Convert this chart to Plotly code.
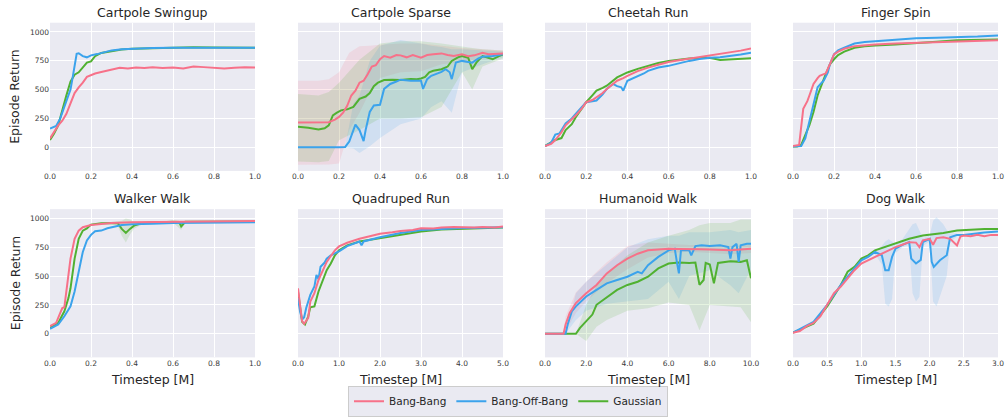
import plotly.graph_objects as go

# ---------------- data ----------------
TITLES = ["Cartpole Swingup", "Cartpole Sparse", "Cheetah Run", "Finger Spin",
          "Walker Walk", "Quadruped Run", "Humanoid Walk", "Dog Walk"]
X_MAX = [1.0, 1.0, 1.0, 1.0, 1.0, 5.0, 10.0, 3.0]
X_TICKS = [[0, 0.2, 0.4, 0.6, 0.8, 1.0]] * 5 + [[0, 1, 2, 3, 4, 5], [0, 2, 4, 6, 8, 10],
                                                [0, 0.5, 1.0, 1.5, 2.0, 2.5, 3.0]]
Y_TICKS = [0, 250, 500, 750, 1000]
SERIES = ["Bang-Bang", "Bang-Off-Bang", "Gaussian"]

# Cartpole Swingup
sw_bb_x = [0, 0.02, 0.04, 0.06, 0.08, 0.10, 0.12, 0.14, 0.16, 0.18, 0.20, 0.22, 0.25, 0.28, 0.31, 0.34, 0.38, 0.42, 0.46, 0.50, 0.55, 0.60, 0.65, 0.70, 0.75, 0.80, 0.85, 0.90, 0.95, 1.0]
sw_bb_y = [77, 140, 190, 230, 290, 380, 470, 520, 560, 610, 625, 640, 652, 665, 680, 690, 684, 692, 688, 693, 687, 692, 684, 700, 695, 692, 683, 690, 694, 691]
sw_bo_x = [0, 0.03, 0.05, 0.07, 0.09, 0.10, 0.11, 0.12, 0.13, 0.14, 0.16, 0.18, 0.20, 0.23, 0.26, 0.30, 0.35, 0.40, 0.45, 0.50, 0.60, 0.70, 0.80, 0.90, 1.0]
sw_bo_y = [163, 185, 250, 350, 440, 500, 600, 720, 810, 815, 790, 780, 797, 808, 820, 840, 850, 855, 856, 860, 862, 863, 866, 865, 863]
sw_ga_x = [0, 0.02, 0.04, 0.06, 0.08, 0.10, 0.12, 0.14, 0.16, 0.18, 0.20, 0.22, 0.25, 0.30, 0.35, 0.40, 0.50, 0.60, 0.70, 0.80, 0.90, 1.0]
sw_ga_y = [63, 120, 190, 330, 450, 570, 630, 650, 690, 735, 745, 790, 818, 834, 848, 854, 860, 866, 868, 866, 862, 862]

# Cartpole Sparse
sp_bb_x = [0, 0.05, 0.10, 0.15, 0.18, 0.20, 0.22, 0.24, 0.26, 0.28, 0.30, 0.32, 0.34, 0.36, 0.38, 0.40, 0.42, 0.45, 0.48, 0.50, 0.53, 0.56, 0.60, 0.63, 0.66, 0.70, 0.73, 0.76, 0.80, 0.83, 0.86, 0.90, 0.93, 0.96, 1.0]
sp_bb_y = [214, 214, 214, 218, 240, 263, 300, 360, 449, 491, 560, 577, 634, 700, 712, 763, 791, 777, 800, 797, 780, 800, 777, 800, 806, 814, 800, 791, 806, 790, 797, 820, 806, 812, 814]
sp_bo_x = [0, 0.05, 0.10, 0.15, 0.20, 0.23, 0.25, 0.27, 0.28, 0.30, 0.32, 0.33, 0.35, 0.37, 0.40, 0.42, 0.45, 0.48, 0.50, 0.55, 0.58, 0.60, 0.61, 0.63, 0.65, 0.68, 0.70, 0.72, 0.74, 0.75, 0.77, 0.80, 0.83, 0.85, 0.88, 0.90, 0.95, 1.0]
sp_bo_y = [0, 2, 0, 0, 0, 3, 49, 150, 197, 149, 54, 150, 306, 363, 369, 506, 549, 570, 586, 577, 580, 577, 506, 591, 620, 640, 654, 677, 650, 591, 734, 749, 740, 734, 770, 786, 791, 806]
sp_ga_x = [0, 0.05, 0.10, 0.13, 0.15, 0.17, 0.19, 0.21, 0.24, 0.27, 0.30, 0.33, 0.35, 0.37, 0.39, 0.42, 0.46, 0.50, 0.55, 0.58, 0.60, 0.62, 0.64, 0.66, 0.70, 0.73, 0.75, 0.78, 0.80, 0.83, 0.85, 0.87, 0.90, 0.93, 0.95, 0.98, 1.0]
sp_ga_y = [177, 170, 154, 165, 190, 277, 300, 320, 329, 350, 420, 440, 470, 530, 560, 583, 585, 583, 591, 590, 597, 610, 650, 663, 677, 700, 749, 780, 791, 777, 677, 734, 791, 775, 763, 790, 806]
sp_bb_band_x = [0, 0.1, 0.15, 0.2, 0.25, 0.3, 0.35, 0.4, 0.5, 0.6, 0.7, 0.8, 0.9, 1.0]
sp_bb_lo = [-151, -151, -150, -140, 150, 300, 480, 600, 650, 660, 720, 740, 770, 790]
sp_bb_hi = [577, 577, 590, 650, 820, 877, 880, 890, 900, 900, 880, 860, 850, 840]
sp_bo_band_x = [0, 0.2, 0.23, 0.27, 0.3, 0.35, 0.4, 0.5, 0.6, 0.65, 0.7, 0.75, 0.8, 0.9, 1.0]
sp_bo_lo = [0, 0, -5, -10, -50, 10, 80, 200, 250, 350, 400, 300, 650, 720, 780]
sp_bo_hi = [0, 0, 10, 380, 450, 750, 880, 930, 900, 880, 870, 850, 850, 840, 830]
sp_ga_band_x = [0, 0.1, 0.15, 0.2, 0.3, 0.4, 0.5, 0.6, 0.7, 0.8, 0.85, 0.9, 1.0]
sp_ga_lo = [-123, -130, -120, 60, 150, 250, 250, 260, 350, 650, 500, 700, 770]
sp_ga_hi = [463, 450, 480, 560, 760, 900, 920, 920, 900, 870, 860, 850, 840]

# Cheetah Run
ch_bb_x = [0, 0.03, 0.05, 0.08, 0.10, 0.13, 0.15, 0.18, 0.20, 0.23, 0.25, 0.28, 0.30, 0.33, 0.35, 0.38, 0.40, 0.45, 0.50, 0.55, 0.60, 0.65, 0.70, 0.75, 0.80, 0.85, 0.90, 0.95, 1.0]
ch_bb_y = [11, 30, 63, 130, 191, 240, 277, 340, 391, 410, 434, 470, 506, 550, 577, 600, 620, 660, 691, 715, 740, 755, 769, 780, 791, 805, 820, 838, 857]
ch_bo_x = [0, 0.03, 0.05, 0.07, 0.10, 0.13, 0.15, 0.18, 0.20, 0.23, 0.25, 0.28, 0.30, 0.33, 0.35, 0.37, 0.38, 0.40, 0.43, 0.45, 0.48, 0.50, 0.55, 0.60, 0.65, 0.70, 0.75, 0.80, 0.85, 0.90, 0.95, 1.0]
ch_bo_y = [11, 40, 111, 120, 206, 250, 291, 350, 391, 400, 406, 460, 506, 549, 530, 520, 491, 577, 600, 620, 640, 663, 691, 706, 730, 749, 765, 777, 780, 791, 805, 820]
ch_ga_x = [0, 0.03, 0.05, 0.08, 0.10, 0.13, 0.15, 0.18, 0.20, 0.23, 0.25, 0.28, 0.30, 0.35, 0.40, 0.45, 0.50, 0.55, 0.60, 0.65, 0.70, 0.75, 0.80, 0.85, 0.90, 0.95, 1.0]
ch_ga_y = [11, 40, 63, 80, 149, 200, 263, 340, 391, 450, 491, 515, 534, 606, 649, 680, 706, 730, 749, 760, 769, 775, 777, 757, 763, 765, 771]

# Finger Spin
fs_bb_x = [0, 0.02, 0.03, 0.05, 0.07, 0.08, 0.10, 0.12, 0.13, 0.15, 0.16, 0.18, 0.20, 0.22, 0.25, 0.30, 0.35, 0.40, 0.50, 0.60, 0.70, 0.80, 0.90, 1.0]
fs_bb_y = [11, 15, 20, 334, 400, 449, 549, 600, 620, 634, 640, 720, 806, 830, 854, 877, 885, 891, 900, 906, 912, 920, 925, 929]
fs_bo_x = [0, 0.02, 0.04, 0.06, 0.08, 0.10, 0.12, 0.14, 0.15, 0.17, 0.18, 0.20, 0.22, 0.25, 0.30, 0.35, 0.40, 0.50, 0.60, 0.70, 0.80, 0.90, 1.0]
fs_bo_y = [6, 6, 10, 77, 220, 363, 520, 560, 577, 650, 720, 806, 840, 863, 900, 912, 920, 934, 946, 950, 954, 960, 969]
fs_ga_x = [0, 0.02, 0.04, 0.06, 0.08, 0.10, 0.12, 0.15, 0.18, 0.20, 0.22, 0.25, 0.30, 0.35, 0.40, 0.50, 0.60, 0.70, 0.80, 0.90, 1.0]
fs_ga_y = [6, 6, 20, 106, 191, 306, 449, 591, 720, 763, 800, 829, 863, 875, 883, 891, 906, 915, 929, 932, 934]

# Walker Walk
ww_bb_x = [0, 0.03, 0.05, 0.06, 0.07, 0.08, 0.10, 0.12, 0.14, 0.16, 0.18, 0.20, 0.25, 0.30, 0.40, 0.50, 0.60, 0.70, 0.80, 0.90, 1.0]
ww_bb_y = [66, 94, 180, 223, 230, 366, 651, 823, 894, 923, 935, 943, 951, 960, 966, 968, 971, 973, 975, 975, 977]
ww_bo_x = [0, 0.04, 0.07, 0.10, 0.12, 0.14, 0.16, 0.18, 0.20, 0.22, 0.25, 0.28, 0.30, 0.35, 0.40, 0.45, 0.50, 0.60, 0.70, 0.80, 0.90, 1.0]
ww_bo_y = [43, 80, 151, 237, 366, 537, 709, 809, 857, 889, 894, 914, 923, 943, 949, 950, 953, 960, 962, 966, 966, 966]
ww_ga_x = [0, 0.04, 0.07, 0.09, 0.10, 0.12, 0.14, 0.16, 0.18, 0.20, 0.25, 0.30, 0.33, 0.35, 0.37, 0.39, 0.41, 0.45, 0.50, 0.60, 0.63, 0.64, 0.66, 0.70, 0.80, 0.90, 1.0]
ww_ga_y = [51, 94, 194, 309, 394, 651, 823, 894, 914, 946, 957, 960, 960, 909, 874, 909, 937, 960, 965, 971, 968, 931, 971, 972, 974, 974, 974]
ww_ga_band_x = [0.3, 0.33, 0.35, 0.37, 0.39, 0.41, 0.45, 0.6, 0.64, 0.66, 0.7]
ww_ga_lo = [950, 940, 850, 790, 860, 910, 950, 965, 900, 965, 968]
ww_ga_hi = [970, 975, 980, 1000, 990, 970, 970, 977, 965, 977, 976]

# Quadruped Run
qr_bb_x = [0, 0.05, 0.10, 0.15, 0.25, 0.30, 0.40, 0.50, 0.60, 0.70, 0.80, 0.90, 1.0, 1.2, 1.5, 1.8, 2.0, 2.3, 2.5, 2.8, 3.0, 3.3, 3.5, 3.8, 4.0, 4.3, 4.5, 4.8, 5.0]
qr_bb_y = [394, 251, 109, 86, 137, 280, 351, 466, 551, 623, 674, 723, 757, 789, 823, 852, 866, 880, 891, 900, 914, 912, 920, 925, 923, 920, 926, 922, 929]
qr_bo_x = [0, 0.05, 0.10, 0.15, 0.20, 0.30, 0.40, 0.45, 0.50, 0.55, 0.65, 0.70, 0.80, 1.0, 1.2, 1.5, 1.55, 1.6, 2.0, 2.5, 3.0, 3.5, 4.0, 4.5, 5.0]
qr_bo_y = [309, 194, 123, 143, 223, 337, 409, 509, 474, 580, 617, 651, 680, 714, 760, 800, 766, 800, 837, 874, 900, 909, 917, 918, 923]
qr_ga_x = [0, 0.05, 0.10, 0.17, 0.25, 0.30, 0.40, 0.50, 0.60, 0.70, 0.80, 0.90, 1.0, 1.2, 1.5, 2.0, 2.5, 3.0, 3.5, 4.0, 4.5, 5.0]
qr_ga_y = [366, 223, 103, 80, 151, 229, 237, 366, 466, 551, 609, 680, 723, 766, 800, 829, 857, 886, 903, 909, 914, 920]

# Humanoid Walk
hw_bb_x = [0, 0.9, 1.0, 1.2, 1.5, 2.0, 2.5, 3.0, 3.5, 4.0, 4.5, 5.0, 5.5, 6.0, 6.5, 7.0, 7.5, 8.0, 8.5, 9.0, 9.5, 10.0]
hw_bb_y = [0, 0, 80, 180, 266, 351, 423, 523, 594, 651, 694, 723, 731, 737, 735, 737, 733, 731, 728, 723, 731, 737]
hw_bo_x = [0, 1.0, 1.1, 1.3, 1.5, 2.0, 2.5, 3.0, 3.5, 4.0, 4.5, 4.7, 5.0, 5.5, 6.0, 6.3, 6.4, 6.5, 6.6, 7.0, 7.1, 7.3, 7.6, 8.0, 8.5, 8.9, 9.0, 9.1, 9.3, 9.4, 9.5, 9.8, 10.0]
hw_bo_y = [0, 0, 80, 194, 237, 323, 380, 437, 466, 494, 537, 523, 594, 666, 723, 737, 623, 523, 723, 723, 680, 760, 766, 760, 766, 751, 651, 751, 780, 623, 766, 780, 780]
hw_ga_x = [0, 1.5, 1.7, 2.0, 2.3, 2.5, 3.0, 3.5, 4.0, 4.5, 5.0, 5.5, 6.0, 6.5, 7.0, 7.3, 7.5, 7.7, 7.8, 8.0, 8.2, 8.4, 9.0, 9.5, 9.8, 10.0]
hw_ga_y = [0, 0, 51, 109, 166, 251, 314, 380, 423, 451, 494, 566, 609, 617, 614, 617, 423, 466, 614, 600, 437, 614, 629, 623, 637, 480]
hw_bb_band_x = [0, 0.9, 1.0, 1.5, 2.0, 3.0, 4.0, 5.0, 6.0, 7.0, 8.0, 9.0, 10.0]
hw_bb_lo = [0, 0, 20, 180, 280, 440, 560, 660, 700, 710, 700, 690, 700]
hw_bb_hi = [0, 0, 150, 360, 450, 620, 760, 790, 780, 770, 770, 760, 770]
hw_bo_band_x = [0, 1.0, 1.5, 2.0, 3.0, 4.0, 5.0, 6.0, 6.5, 7.0, 8.0, 9.0, 9.4, 10.0]
hw_bo_lo = [0, 0, 120, 200, 260, 280, 300, 450, 300, 500, 550, 420, 350, 560]
hw_bo_hi = [0, 0, 350, 450, 600, 750, 820, 850, 850, 880, 880, 900, 880, 900]
hw_ga_band_x = [0, 1.5, 2.0, 2.5, 3.0, 4.0, 5.0, 6.0, 7.0, 7.5, 8.0, 9.0, 9.5, 10.0]
hw_ga_lo = [0, 0, -63, 60, 120, 200, 220, 270, 250, 30, 250, 240, 230, 100]
hw_ga_hi = [0, 0, 250, 420, 520, 680, 790, 850, 900, 940, 960, 960, 990, 990]

# Dog Walk
dw_bb_x = [0, 0.1, 0.2, 0.3, 0.4, 0.5, 0.6, 0.7, 0.8, 0.9, 1.0, 1.1, 1.2, 1.3, 1.4, 1.5, 1.6, 1.7, 1.8, 1.85, 1.9, 2.0, 2.05, 2.1, 2.2, 2.3, 2.4, 2.45, 2.5, 2.6, 2.7, 2.8, 2.9, 3.0]
dw_bb_y = [9, 23, 66, 94, 151, 251, 351, 409, 480, 551, 609, 637, 666, 694, 723, 751, 771, 794, 790, 751, 809, 823, 771, 829, 837, 823, 766, 843, 851, 845, 857, 845, 857, 857]
dw_bo_x = [0, 0.3, 0.5, 0.7, 0.9, 1.0, 1.1, 1.2, 1.3, 1.35, 1.4, 1.45, 1.5, 1.6, 1.7, 1.73, 1.8, 1.87, 1.9, 2.0, 2.03, 2.06, 2.15, 2.25, 2.3, 2.4, 2.5, 2.6, 2.7, 2.8, 2.9, 3.0]
dw_bo_y = [9, 103, 251, 423, 566, 637, 666, 709, 680, 551, 551, 666, 737, 771, 794, 651, 609, 640, 794, 823, 623, 580, 637, 680, 837, 857, 857, 865, 874, 878, 882, 886]
dw_ga_x = [0, 0.3, 0.5, 0.7, 0.8, 0.9, 1.0, 1.1, 1.2, 1.3, 1.5, 1.7, 1.9, 2.0, 2.2, 2.4, 2.6, 2.8, 3.0]
dw_ga_y = [9, 86, 237, 423, 537, 580, 651, 680, 723, 743, 780, 823, 851, 857, 874, 894, 903, 909, 909]
dw_bo_band_x = [1.2, 1.3, 1.35, 1.4, 1.45, 1.5, 1.6, 1.7, 1.75, 1.8, 1.85, 1.9, 2.0, 2.05, 2.1, 2.2, 2.25, 2.3, 2.4]
dw_bo_lo = [690, 600, 260, 237, 300, 700, 750, 770, 350, 280, 320, 760, 800, 280, 237, 400, 500, 800, 840]
dw_bo_hi = [720, 760, 800, 820, 800, 780, 820, 900, 950, 960, 900, 830, 850, 980, 1009, 950, 900, 870, 870]

LINES = [
    [(sw_bb_x, sw_bb_y), (sw_bo_x, sw_bo_y), (sw_ga_x, sw_ga_y)],
    [(sp_bb_x, sp_bb_y), (sp_bo_x, sp_bo_y), (sp_ga_x, sp_ga_y)],
    [(ch_bb_x, ch_bb_y), (ch_bo_x, ch_bo_y), (ch_ga_x, ch_ga_y)],
    [(fs_bb_x, fs_bb_y), (fs_bo_x, fs_bo_y), (fs_ga_x, fs_ga_y)],
    [(ww_bb_x, ww_bb_y), (ww_bo_x, ww_bo_y), (ww_ga_x, ww_ga_y)],
    [(qr_bb_x, qr_bb_y), (qr_bo_x, qr_bo_y), (qr_ga_x, qr_ga_y)],
    [(hw_bb_x, hw_bb_y), (hw_bo_x, hw_bo_y), (hw_ga_x, hw_ga_y)],
    [(dw_bb_x, dw_bb_y), (dw_bo_x, dw_bo_y), (dw_ga_x, dw_ga_y)],
]
# (panel index, series index, x, lo, hi)
BANDS = [
    (1, 0, sp_bb_band_x, sp_bb_lo, sp_bb_hi),
    (1, 1, sp_bo_band_x, sp_bo_lo, sp_bo_hi),
    (1, 2, sp_ga_band_x, sp_ga_lo, sp_ga_hi),
    (4, 2, ww_ga_band_x, ww_ga_lo, ww_ga_hi),
    (6, 0, hw_bb_band_x, hw_bb_lo, hw_bb_hi),
    (6, 1, hw_bo_band_x, hw_bo_lo, hw_bo_hi),
    (6, 2, hw_ga_band_x, hw_ga_lo, hw_ga_hi),
    (7, 1, dw_bo_band_x, dw_bo_lo, dw_bo_hi),
]

# ---------------- style ----------------
COLORS = ["#f77189", "#3ba3ec", "#50b131"]
FILLS = ["rgba(247,113,137,0.15)", "rgba(59,163,236,0.15)", "rgba(80,177,49,0.15)"]
W, H = 1006, 417
COL_PX = [(50, 255), (298, 503), (545, 751), (793, 998)]
ROW_PX = [(23, 173), (211.7, 361.7)]
FONT = "DejaVu Sans"
TXT = "#262626"
TICK = "#3a3a3a"

fig = go.Figure()
layout = dict(width=W, height=H, margin=dict(l=0, r=0, t=0, b=0, pad=0), autosize=False,
              paper_bgcolor="white", plot_bgcolor="#eaeaf2",
              font=dict(family=FONT, color=TXT), annotations=[])

for p in range(8):
    r, c = divmod(p, 4)
    n = p + 1
    xa = "xaxis" if n == 1 else f"xaxis{n}"
    ya = "yaxis" if n == 1 else f"yaxis{n}"
    xr = "x" if n == 1 else f"x{n}"
    yr = "y" if n == 1 else f"y{n}"
    x0, x1 = COL_PX[c]
    y0, y1 = ROW_PX[r]
    layout[xa] = dict(domain=[x0 / W, x1 / W], anchor=yr, range=[0, X_MAX[p]],
                      tickvals=X_TICKS[p], tickformat=".1f", showgrid=True, gridcolor="white",
                      gridwidth=1, zeroline=False, showline=False, ticks="", automargin=False,
                      tickfont=dict(size=7.5, color=TICK, family=FONT))
    layout[ya] = dict(domain=[1 - y1 / H, 1 - y0 / H], anchor=xr, range=[-205, 1080],
                      tickvals=Y_TICKS, showgrid=True, gridcolor="white", gridwidth=1,
                      zeroline=False, showline=False, ticks="", showticklabels=(c == 0),
                      automargin=False, tickfont=dict(size=7.5, color=TICK, family=FONT))
    for (bp, s, bx, lo, hi) in BANDS:
        if bp != p:
            continue
        fig.add_trace(go.Scatter(x=bx, y=lo, xaxis=xr, yaxis=yr, mode="lines",
                                 line=dict(width=0, color=COLORS[s]), showlegend=False,
                                 hoverinfo="skip"))
        fig.add_trace(go.Scatter(x=bx, y=hi, xaxis=xr, yaxis=yr, mode="lines",
                                 line=dict(width=0, color=COLORS[s]), fill="tonexty",
                                 fillcolor=FILLS[s], showlegend=False, hoverinfo="skip"))
    for s in [2, 1, 0]:
        lx, ly = LINES[p][s]
        fig.add_trace(go.Scatter(x=lx, y=ly, xaxis=xr, yaxis=yr, mode="lines",
                                 line=dict(color=COLORS[s], width=2),
                                 name=SERIES[s], legendgroup=SERIES[s], legendrank=s + 1,
                                 showlegend=(p == 0)))
    layout["annotations"].append(dict(text=TITLES[p], x=(x0 + x1) / 2 / W,
                                      y=1 - (12.3 if r == 0 else 200.7) / H,
                                      xref="paper", yref="paper", showarrow=False,
                                      xanchor="center", yanchor="middle",
                                      font=dict(size=12.5, color=TXT, family=FONT)))
    if r == 1:
        layout["annotations"].append(dict(text="Timestep [M]", x=(x0 + x1) / 2 / W,
                                          y=1 - 384.5 / H, xref="paper", yref="paper",
                                          showarrow=False, xanchor="center", yanchor="middle",
                                          font=dict(size=12.5, color=TXT, family=FONT)))
    if c == 0:
        layout["annotations"].append(dict(text="Episode Return", x=15 / W,
                                          y=1 - (y0 + y1) / 2 / H, xref="paper",
                                          yref="paper", showarrow=False, textangle=-90,
                                          xanchor="center", yanchor="middle",
                                          font=dict(size=12.5, color=TXT, family=FONT)))

layout["legend"] = dict(orientation="h", x=508 / W, xanchor="center", y=1 - 406 / H,
                        yanchor="middle", bgcolor="#eaeaf2", bordercolor="#cccccc",
                        borderwidth=1, font=dict(size=10.5, color=TXT, family=FONT),
                        itemwidth=30, traceorder="normal")
fig.update_layout(**layout)
fig.write_html("out.html", config={"displayModeBar": False},
               post_script="document.body.style.margin='0px';")
